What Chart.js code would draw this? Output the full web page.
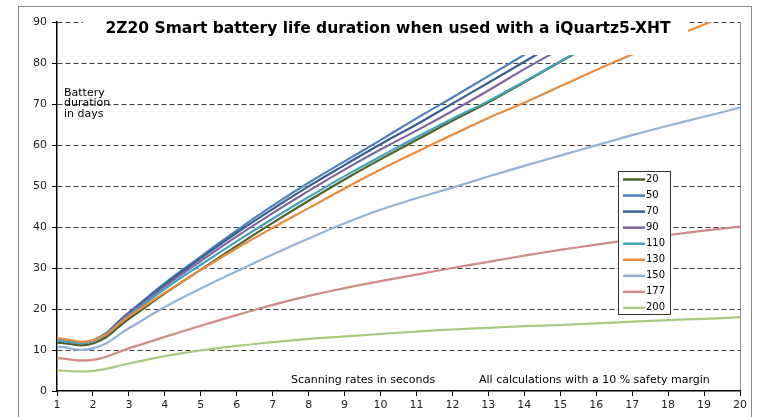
<!DOCTYPE html>
<html>
<head>
<meta charset="utf-8">
<script src="https://cdn.jsdelivr.net/npm/chart.js@4.4.0/dist/chart.umd.min.js"></script>
<style>
  html, body { margin: 0; padding: 0; background: #fff; }
  #wrap { width: 758px; height: 417px; }
</style>
</head>
<body>
<div id="wrap"><canvas id="myChart" width="758" height="417"></canvas></div>
<script>
const titleText = "2Z20 Smart battery life duration when used with a iQuartz5-XHT";
const yLabelLines = ["Battery", "duration", "in days"];
const xNote = "Scanning rates in seconds";
const marginNote = "All calculations with a 10 % safety margin";

// scanning rate in seconds
const xValues = [1, 2, 3, 4, 5, 6, 7, 8, 9, 10, 11, 12, 13, 14, 15, 16, 17, 18, 19, 20];

// battery duration in days, one list per series
const s20  = [11.8, 11.6, 17.6, 23.8, 29.6, 35.4, 41.0, 46.4, 51.6, 56.5, 61.2, 65.9, 70.4, 75.3, 80.3, 85.2, 90.1, 95.0, null, null];
const s50  = [12.5, 12.4, 19.2, 26.3, 32.8, 39.2, 45.2, 50.8, 56.0, 61.2, 66.5, 71.6, 76.8, 82.0, 87.2, 92.4, null, null, null, null];
const s70  = [12.4, 12.3, 19.0, 26.0, 32.4, 38.6, 44.4, 49.9, 55.1, 60.2, 65.0, 70.1, 75.2, 80.3, 85.4, 90.5, null, null, null, null];
const s90  = [12.3, 12.2, 18.8, 25.5, 31.7, 37.7, 43.4, 48.8, 54.0, 58.9, 63.5, 68.3, 73.3, 78.5, 83.4, 88.3, 93.2, null, null, null];
const s110 = [12.3, 12.2, 18.4, 24.9, 30.8, 36.5, 42.0, 47.3, 52.4, 57.2, 61.9, 66.4, 70.7, 75.5, 80.4, 85.3, 90.2, 95.0, null, null];
const s130 = [12.9, 12.4, 18.2, 24.0, 29.5, 34.8, 39.8, 44.6, 49.4, 54.0, 58.3, 62.5, 66.6, 70.3, 74.3, 78.3, 82.1, 85.8, 89.4, 93.0];
const s150 = [10.8, 10.4, 15.3, 20.5, 25.0, 29.2, 33.3, 37.2, 40.9, 44.2, 47.0, 49.6, 52.3, 54.9, 57.4, 59.9, 62.4, 64.7, 66.9, 69.1];
const s177 = [8.0, 7.6, 10.4, 13.2, 15.9, 18.5, 21.0, 23.2, 25.1, 26.8, 28.4, 30.0, 31.5, 33.0, 34.4, 35.7, 36.9, 38.0, 39.1, 40.1];
const s200 = [5.0, 4.9, 6.7, 8.5, 9.9, 11.0, 11.9, 12.7, 13.3, 13.9, 14.5, 15.0, 15.4, 15.8, 16.1, 16.5, 16.9, 17.3, 17.6, 18.0];

const seriesNames = ["20", "50", "70", "90", "110", "130", "150", "177", "200"];
const seriesValues = [s20, s50, s70, s90, s110, s130, s150, s177, s200];
const seriesColors = ["#4F6228", "#4F81BD", "#376092", "#8064A2", "#3FA4BE", "#EC8A3C", "#95B3D7", "#D08A88", "#A9C983"];

const font = "DejaVu Sans";

// frame, title box, notes and legend drawn on the canvas
const decorations = {
  id: "decorations",
  beforeDraw(chart) {
    const ctx = chart.ctx;
    ctx.save();
    ctx.fillStyle = "#fff";
    ctx.fillRect(0, 0, chart.width, chart.height);
    ctx.strokeStyle = "#8a8a8a";
    ctx.lineWidth = 1;
    ctx.strokeRect(18.5, 6.5, 733, 430);
    ctx.restore();
  },
  afterDatasetsDraw(chart) {
    const ctx = chart.ctx;
    const area = chart.chartArea;
    ctx.save();

    // title sits on a white box over the plot
    ctx.fillStyle = "#fff";
    ctx.fillRect(83, 9, 605, 46);
    ctx.fillStyle = "#000";
    ctx.font = "bold 15.5px '" + font + "'";
    ctx.textAlign = "center";
    ctx.textBaseline = "alphabetic";
    ctx.fillText(titleText, 388, 33);

    // y axis caption
    ctx.font = "11px '" + font + "'";
    ctx.textAlign = "left";
    ctx.textBaseline = "middle";
    yLabelLines.forEach((t, i) => ctx.fillText(t, area.left + 7, 93 + i * 10.5));

    // notes at the bottom
    ctx.fillText(xNote, 291, 380);
    ctx.fillText(marginNote, 479, 380);

    // legend box
    const lx = 618.5, ly = 171.5, lw = 52, lh = 143;
    ctx.fillStyle = "#fff";
    ctx.fillRect(lx, ly, lw, lh);
    ctx.strokeStyle = "#333";
    ctx.lineWidth = 1;
    ctx.strokeRect(lx, ly, lw, lh);
    ctx.font = "10px '" + font + "'";
    seriesNames.forEach((name, i) => {
      const y = 179.5 + i * 16.05;
      ctx.strokeStyle = seriesColors[i];
      ctx.lineWidth = 2.5;
      ctx.beginPath();
      ctx.moveTo(623, y);
      ctx.lineTo(645, y);
      ctx.stroke();
      ctx.fillStyle = "#000";
      ctx.fillText(name, 646, y);
    });
    ctx.restore();
  }
};

const ctx = document.getElementById("myChart").getContext("2d");

new Chart(ctx, {
  type: "line",
  data: {
    datasets: seriesNames.map((name, i) => ({
      label: name,
      data: xValues.map((x, j) => ({ x: x, y: seriesValues[i][j] })),
      borderColor: seriesColors[i],
      backgroundColor: seriesColors[i],
      borderWidth: 2.2,
      pointRadius: 0,
      tension: 0.45,
      fill: false,
      order: seriesNames.length - i
    }))
  },
  options: {
    responsive: false,
    animation: false,
    devicePixelRatio: 1,
    layout: { padding: { top: 22, right: 18, left: 0, bottom: 0 } },
    plugins: {
      legend: { display: false },
      tooltip: { enabled: false }
    },
    scales: {
      x: {
        type: "linear",
        min: 1,
        max: 20,
        afterFit: s => { s.height = 26; },
        ticks: {
          stepSize: 1,
          autoSkip: false,
          maxRotation: 0,
          padding: 3,
          color: "#222",
          font: { family: font, size: 11 }
        },
        grid: {
          color: c => (c.tick && c.tick.value === 20 ? "#8c8c8c" : "rgba(0,0,0,0)"),
          tickColor: "#000",
          tickLength: 5,
          lineWidth: 1
        },
        border: { color: "#000", width: 1.5 }
      },
      y: {
        min: 0,
        max: 90,
        afterFit: s => { s.width = 57; },
        ticks: {
          stepSize: 10,
          padding: 5,
          color: "#222",
          font: { family: font, size: 11 }
        },
        grid: {
          color: c => (c.tick && c.tick.value === 0 ? "rgba(0,0,0,0)" : "#404040"),
          tickColor: "#000",
          tickLength: 5,
          lineWidth: 1
        },
        border: { color: "#000", width: 1.5, dash: [5, 3] }
      }
    }
  },
  plugins: [decorations]
});
</script>
</body>
</html>
